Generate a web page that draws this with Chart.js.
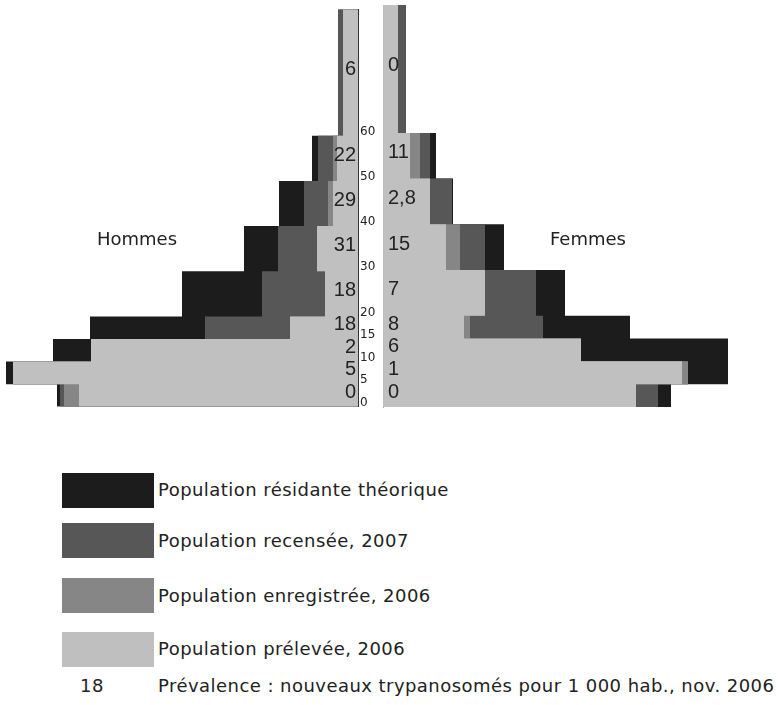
<!DOCTYPE html>
<html>
<head>
<meta charset="utf-8">
<script src="https://cdn.jsdelivr.net/npm/chart.js@4.4.1/dist/chart.umd.min.js"></script>
<style>
body { margin: 0; background: #fff; font-family: 'DejaVu Sans', sans-serif; color: #222; }
#page { position: relative; width: 780px; height: 705px; overflow: hidden; }
#left { position: absolute; left: 0; top: 0; width: 383px; height: 416px; }
#right { position: absolute; left: 383px; top: 0; width: 397px; height: 416px; }
.side { position: absolute; top: 228px; font-size: 18px; line-height: 22px; }
.key { position: absolute; left: 62px; width: 92px; height: 35px; }
.lab { position: absolute; left: 158px; font-size: 18px; line-height: 22px; letter-spacing: 0.45px; white-space: nowrap; }
</style>
</head>
<body>
<div id="page">
  <div id="left"><canvas id="menChart"></canvas></div>
  <div id="right"><canvas id="womenChart"></canvas></div>
  <div class="side" style="left:97px">Hommes</div>
  <div class="side" style="left:550px">Femmes</div>

  <div class="key" style="top:473px;background:#1c1c1c"></div>
  <div class="lab" style="top:479px">Population résidante théorique</div>
  <div class="key" style="top:523px;background:#575757"></div>
  <div class="lab" style="top:530px">Population recensée, 2007</div>
  <div class="key" style="top:578px;background:#868686"></div>
  <div class="lab" style="top:585px">Population enregistrée, 2006</div>
  <div class="key" style="top:632px;background:#bfbfbf"></div>
  <div class="lab" style="top:638px">Population prélevée, 2006</div>
  <div class="lab" style="top:675px;left:80px">18</div>
  <div class="lab" style="top:675px">Prévalence : nouveaux trypanosomés pour 1 000 hab., nov. 2006</div>
</div>

<script>
// tranches d'age (debut de chaque tranche) et sommet de la pyramide
var ageStarts = [0, 5, 10, 15, 20, 30, 40, 50, 60];
var ageTop = 88;
var ageTicks = [0, 5, 10, 15, 20, 30, 40, 50, 60];

// Hommes
var menTheorique = [301, 352, 305, 268, 176, 114, 79, 46, 20];
var menRecensee = [298, 345, 267, 153, 96, 80, 54, 40, 20];
var menEnregistree = [294, 345, 267, 68, 33, 41, 30, 25, 15];
var menPrelevee = [279, 345, 267, 68, 33, 41, 25, 21, 15];
var menPrevalence = [0, 5, 2, 18, 18, 31, 29, 22, 6];

// Femmes
var womenTheorique = [288, 345, 345, 247, 182, 121, 70, 53, 23];
var womenRecensee = [275, 305, 198, 160, 153, 102, 69, 47, 23];
var womenEnregistree = [253, 305, 198, 87, 102, 77, 47, 37, 15];
var womenPrelevee = [253, 299, 198, 81, 102, 63, 47, 27, 15];
var womenPrevalence = [0, 1, 6, 8, 7, 15, 2.8, 11, 0];

var colors = {
    theorique: '#1c1c1c',
    recensee: '#575757',
    enregistree: '#868686',
    prelevee: '#c0c0c0'
};

Chart.defaults.font.family = "'DejaVu Sans', sans-serif";
Chart.defaults.color = '#222';

function toSteps(values) {
    var pts = values.map(function (v, i) {
        return { x: v, y: ageStarts[i] };
    });
    pts.push({ x: values[values.length - 1], y: ageTop });
    return pts;
}

function serie(label, values, color) {
    return {
        label: label,
        data: toSteps(values),
        stepped: 'after',
        fill: 'origin',
        backgroundColor: color,
        borderColor: color,
        borderWidth: 0,
        pointRadius: 0
    };
}

var prevalencePlugin = {
    id: 'prevalence',
    afterDatasetsDraw: function (chart, args, opts) {
        var ctx = chart.ctx;
        var yScale = chart.scales.y;
        var area = chart.chartArea;
        ctx.save();
        ctx.font = "20px 'Liberation Sans'";
        ctx.fillStyle = '#222';
        ctx.textBaseline = 'middle';
        ctx.textAlign = opts.align;
        opts.values.forEach(function (v, i) {
            var top = i + 1 < ageStarts.length ? ageStarts[i + 1] : ageTop;
            var yy = yScale.getPixelForValue((ageStarts[i] + top) / 2) - 3;
            var xx = opts.align === 'right' ? area.right - 2 : area.left + 5;
            ctx.fillText(String(v).replace('.', ','), xx, yy);
        });
        ctx.restore();
    }
};

function createPyramid(canvasId, series, prevalence, isLeft) {
    var ctx = document.getElementById(canvasId).getContext('2d');
    return new Chart(ctx, {
        type: 'line',
        data: {
            datasets: [
                serie('Population prélevée, 2006', series[3], colors.prelevee),
                serie('Population enregistrée, 2006', series[2], colors.enregistree),
                serie('Population recensée, 2007', series[1], colors.recensee),
                serie('Population résidante théorique', series[0], colors.theorique)
            ]
        },
        options: {
            indexAxis: 'y',
            responsive: true,
            maintainAspectRatio: false,
            animation: false,
            layout: { padding: { top: 5, bottom: 9, left: 0, right: 0 } },
            plugins: {
                legend: { display: false },
                tooltip: { enabled: false },
                prevalence: { values: prevalence, align: isLeft ? 'right' : 'left' }
            },
            scales: {
                x: {
                    type: 'linear',
                    min: 0,
                    max: isLeft ? 358 : 397,
                    reverse: isLeft,
                    display: false
                },
                y: {
                    type: 'linear',
                    position: isLeft ? 'right' : 'left',
                    min: 0,
                    max: ageTop,
                    afterBuildTicks: function (scale) {
                        scale.ticks = ageTicks.map(function (v) { return { value: v }; });
                    },
                    afterFit: function (scale) {
                        scale.width = isLeft ? 25 : 0;
                    },
                    ticks: {
                        display: isLeft,
                        font: { size: 12 },
                        color: '#222',
                        padding: 2,
                        labelOffset: -4,
                        crossAlign: 'near',
                        autoSkip: false
                    },
                    grid: { display: false, drawTicks: false },
                    border: { display: true, color: isLeft ? '#333' : '#a8a8a8', width: 1 }
                }
            }
        },
        plugins: [prevalencePlugin]
    });
}

createPyramid('menChart', [menTheorique, menRecensee, menEnregistree, menPrelevee], menPrevalence, true);
createPyramid('womenChart', [womenTheorique, womenRecensee, womenEnregistree, womenPrelevee], womenPrevalence, false);
</script>
</body>
</html>
